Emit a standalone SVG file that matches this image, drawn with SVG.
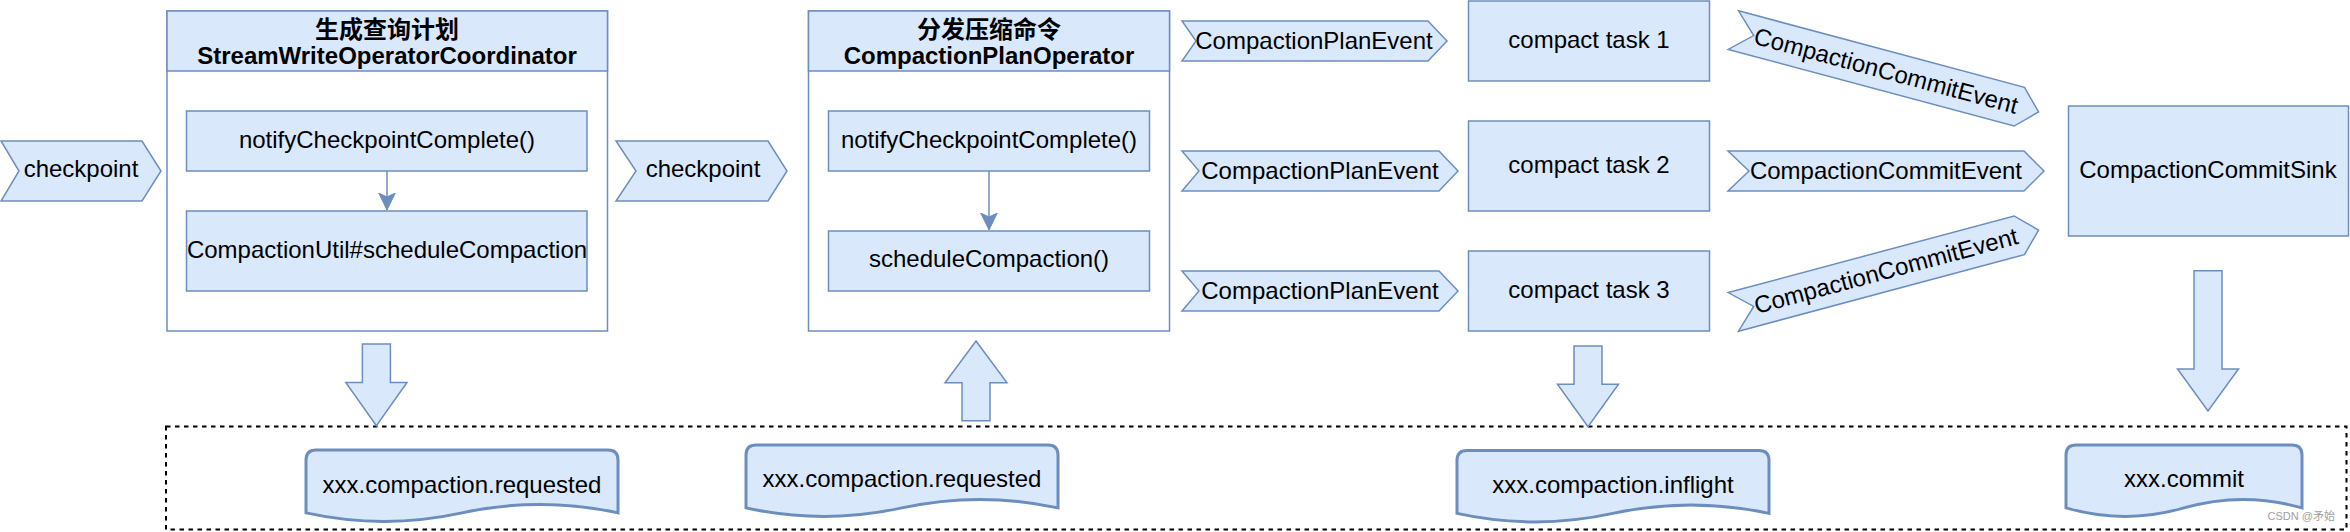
<svg xmlns="http://www.w3.org/2000/svg" width="2350" height="532" viewBox="0 0 2350 532">
<style>
.s{fill:#dae8fc;stroke:#6c8ebf;stroke-width:1.5}
.w{fill:#ffffff;stroke:#6c8ebf;stroke-width:1.5}
.d{fill:#dae8fc;stroke:#6c8ebf;stroke-width:3}
.ln{fill:none;stroke:#6c8ebf;stroke-width:1.5}
.t{font-family:"Liberation Sans",Arial,"Noto Sans CJK SC",sans-serif;font-size:24px;fill:#000;text-anchor:middle}
.b{font-weight:bold}
.wm{font-family:"Liberation Sans",Arial,"Noto Sans CJK SC",sans-serif;font-size:11px;fill:#a0a0a0;text-anchor:end}
</style>
<defs>
<marker id="arr" markerUnits="userSpaceOnUse" markerWidth="18" markerHeight="18" viewBox="0 0 18 17" refX="17" refY="8.3" orient="auto">
<path d="M0,0 L17,8.3 L0,16.6 L4,8.3 Z" fill="#6c8ebf" stroke="#6c8ebf" stroke-width="1"/>
</marker>
</defs>
<rect id="storage" x="166" y="426.5" width="2180.5" height="103" fill="none" stroke="#000" stroke-width="2" stroke-dasharray="4.5 4.5"/>
<g id="checkpoint1">
<path class="s" d="M1,141 H142 L161,171 L142,201 H1 L19,171 Z"/>
<text class="t" x="81" y="177">checkpoint</text>
</g>
<g id="coordinator">
<rect class="w" x="167" y="11" width="440.5" height="320"/>
<rect class="s" x="167" y="11" width="440.5" height="60"/>
<text class="t b" x="387" y="38">生成查询计划</text>
<text class="t b" x="387" y="64">StreamWriteOperatorCoordinator</text>
</g>
<g id="notify1">
<rect class="s" x="186.5" y="111" width="400.5" height="60"/>
<text class="t" x="387" y="148">notifyCheckpointComplete()</text>
</g>
<g id="schedule1">
<rect class="s" x="186.5" y="211" width="400.5" height="80"/>
<text class="t" x="387" y="258">CompactionUtil#scheduleCompaction</text>
</g>
<g id="checkpoint2">
<path class="s" d="M616,141 H768 L787,171 L768,201 H616 L636,171 Z"/>
<text class="t" x="703" y="177">checkpoint</text>
</g>
<g id="planOperator">
<rect class="w" x="808.5" y="11" width="361" height="320"/>
<rect class="s" x="808.5" y="11" width="361" height="60"/>
<text class="t b" x="989" y="38">分发压缩命令</text>
<text class="t b" x="989" y="64">CompactionPlanOperator</text>
</g>
<g id="notify2">
<rect class="s" x="828.5" y="111" width="321" height="60"/>
<text class="t" x="989" y="148">notifyCheckpointComplete()</text>
</g>
<g id="schedule2">
<rect class="s" x="828.5" y="231" width="321" height="60"/>
<text class="t" x="989" y="267">scheduleCompaction()</text>
</g>
<g id="planEvent1">
<path class="s" d="M1182,21 H1428 L1447,41 L1428,61 H1182 L1196,41 Z"/>
<text class="t" x="1314" y="49">CompactionPlanEvent</text>
</g>
<g id="planEvent2">
<path class="s" d="M1182,151 H1439 L1458,171 L1439,191 H1182 L1199,171 Z"/>
<text class="t" x="1320" y="179">CompactionPlanEvent</text>
</g>
<g id="planEvent3">
<path class="s" d="M1182,271 H1439 L1458,291 L1439,311 H1182 L1199,291 Z"/>
<text class="t" x="1320" y="299">CompactionPlanEvent</text>
</g>
<g id="task1">
<rect class="s" x="1468.5" y="1" width="241" height="80"/>
<text class="t" x="1589" y="48">compact task 1</text>
</g>
<g id="task2">
<rect class="s" x="1468.5" y="121" width="241" height="90"/>
<text class="t" x="1589" y="173">compact task 2</text>
</g>
<g id="task3">
<rect class="s" x="1468.5" y="251" width="241" height="80"/>
<text class="t" x="1589" y="298">compact task 3</text>
</g>
<g id="commitEvent1" transform="rotate(15 1886 71)">
<path class="s" d="M1728,51 H2024 L2044,71 L2024,91 H1728 L1749,71 Z"/>
<text class="t" x="1886" y="79">CompactionCommitEvent</text>
</g>
<g id="commitEvent2">
<path class="s" d="M1728,151 H2024 L2044,171 L2024,191 H1728 L1749,171 Z"/>
<text class="t" x="1886" y="179">CompactionCommitEvent</text>
</g>
<g id="commitEvent3" transform="rotate(-15 1886 271)">
<path class="s" d="M1728,251 H2024 L2044,271 L2024,291 H1728 L1749,271 Z"/>
<text class="t" x="1886" y="279">CompactionCommitEvent</text>
</g>
<g id="commitSink">
<rect class="s" x="2068.5" y="106" width="280" height="130"/>
<text class="t" x="2208" y="178">CompactionCommitSink</text>
</g>
<g id="doc1">
<path class="d" d="M306,512.9 L306,460 Q306,450 316,450 L608,450 Q618,450 618,460 L618,512.9 Q540,495.9 462,512.9 Q384,529.9 306,512.9 Z"/>
<text class="t" x="462" y="493">xxx.compaction.requested</text>
</g>
<g id="doc2">
<path class="d" d="M746,507.9 L746,455 Q746,445 756,445 L1048,445 Q1058,445 1058,455 L1058,507.9 Q980,490.9 902,507.9 Q824,524.9 746,507.9 Z"/>
<text class="t" x="902" y="487">xxx.compaction.requested</text>
</g>
<g id="doc3">
<path class="d" d="M1457,513.4 L1457,460.5 Q1457,450.5 1467,450.5 L1759,450.5 Q1769,450.5 1769,460.5 L1769,513.4 Q1691,496.4 1613,513.4 Q1535,530.4 1457,513.4 Z"/>
<text class="t" x="1613" y="493">xxx.compaction.inflight</text>
</g>
<g id="doc4">
<path class="d" d="M2066,507.9 L2066,455 Q2066,445 2076,445 L2292,445 Q2302,445 2302,455 L2302,507.9 Q2243,490.9 2184,507.9 Q2125,524.9 2066,507.9 Z"/>
<text class="t" x="2184" y="487">xxx.commit</text>
</g>
<g id="connectors">
<line class="ln" x1="387" y1="171" x2="387" y2="210" marker-end="url(#arr)"/>
<line class="ln" x1="989" y1="171" x2="989" y2="230" marker-end="url(#arr)"/>
<polygon class="s" points="362.4,344 390.4,344 390.4,382.5 407,382.5 376.4,425.7 345.8,382.5 362.4,382.5"/>
<polygon class="s" points="976,341 1007,382.7 990,382.7 990,420.7 962,420.7 962,382.7 945,382.7"/>
<polygon class="s" points="1574,346 1602,346 1602,384.3 1618.5,384.3 1588,426.7 1557.5,384.3 1574,384.3"/>
<polygon class="s" points="2194,270.7 2222,270.7 2222,369 2238.5,369 2208,411 2177.5,369 2194,369"/>
</g>
<text class="wm" x="2335" y="520">CSDN @矛始</text>
</svg>
